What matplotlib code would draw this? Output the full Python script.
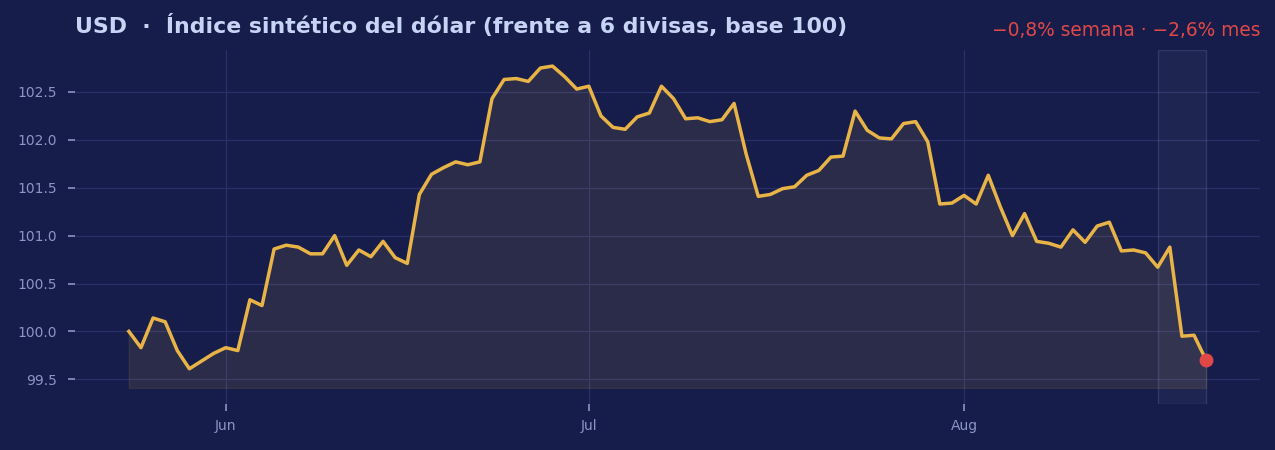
import numpy as np
import pandas as pd
import matplotlib
matplotlib.use("Agg")
from matplotlib import pyplot as plt
import matplotlib.dates as mdates

# daily index, 24 May -> 21 Aug
start = "2024-05-24"
end = "2024-08-21"
values = [100.00, 99.83, 100.14, 100.10, 99.80, 99.61, 99.69, 99.77, 99.83, 99.80,
          100.33, 100.27, 100.86, 100.90, 100.88, 100.81, 100.81, 101.00, 100.69, 100.85,
          100.78, 100.94, 100.77, 100.71, 101.43, 101.64, 101.71, 101.77, 101.74, 101.77,
          102.43, 102.63, 102.64, 102.61, 102.75, 102.77, 102.66, 102.53, 102.56, 102.25,
          102.13, 102.11, 102.24, 102.28, 102.56, 102.43, 102.22, 102.23, 102.19, 102.21,
          102.38, 101.85, 101.41, 101.43, 101.49, 101.51, 101.63, 101.68, 101.82, 101.83,
          102.30, 102.10, 102.02, 102.01, 102.17, 102.19, 101.98, 101.33, 101.34, 101.42,
          101.33, 101.63, 101.30, 101.00, 101.23, 100.94, 100.92, 100.88, 101.06, 100.93,
          101.10, 101.14, 100.84, 100.85, 100.82, 100.67, 100.88, 99.95, 99.96, 99.70]
week_start = "2024-08-17"
title = "USD  ·  Índice sintético del dólar (frente a 6 divisas, base 100)"
change_txt = "\u22120,8% semana \u00b7 \u22122,6% mes"

dates = pd.date_range(start, end, freq="D")
y = np.array(values)

bg = "#161d4a"
gold = "#e8b447"
red = "#e04848"
tick_c = "#8c95c4"

fig = plt.figure(figsize=(12.75, 4.5), dpi=100, facecolor=bg)
ax = fig.add_axes([75/1275, 1-404/450, (1260-75)/1275, (404-50)/450])
ax.set_facecolor(bg)

ax.fill_between(dates, y, y.min() - 0.2, color=gold, alpha=0.1, lw=1)
ax.plot(dates, y, color=gold, lw=2.5, zorder=3)
ax.plot(dates[-1], y[-1], "o", color=red, ms=9, zorder=4)
ax.axvspan(pd.Timestamp(week_start), dates[-1], fc=(1, 1, 1, 0.04),
           ec=(0.6, 0.65, 0.85, 0.18), lw=1)

ax.grid(True, color="#28306a", lw=0.9)
ax.set_axisbelow(True)
for s in ax.spines.values():
    s.set_visible(False)

ax.xaxis.set_major_locator(mdates.MonthLocator())
ax.xaxis.set_major_formatter(mdates.DateFormatter("%b"))
ax.set_yticks([99.5, 100.0, 100.5, 101.0, 101.5, 102.0, 102.5])
ax.tick_params(colors=tick_c, labelsize=10, length=5, width=1.2, pad=8)
ax.tick_params(axis="x", pad=6)

fig.text(75/1275, 1-26/450, title, color="#c8d4f5", fontsize=15.8,
         fontweight="bold", va="center", ha="left")
fig.text(1260/1275, 1-30/450, change_txt, color=red, fontsize=13.4,
         va="center", ha="right")

fig.savefig("out.png", facecolor=bg)
